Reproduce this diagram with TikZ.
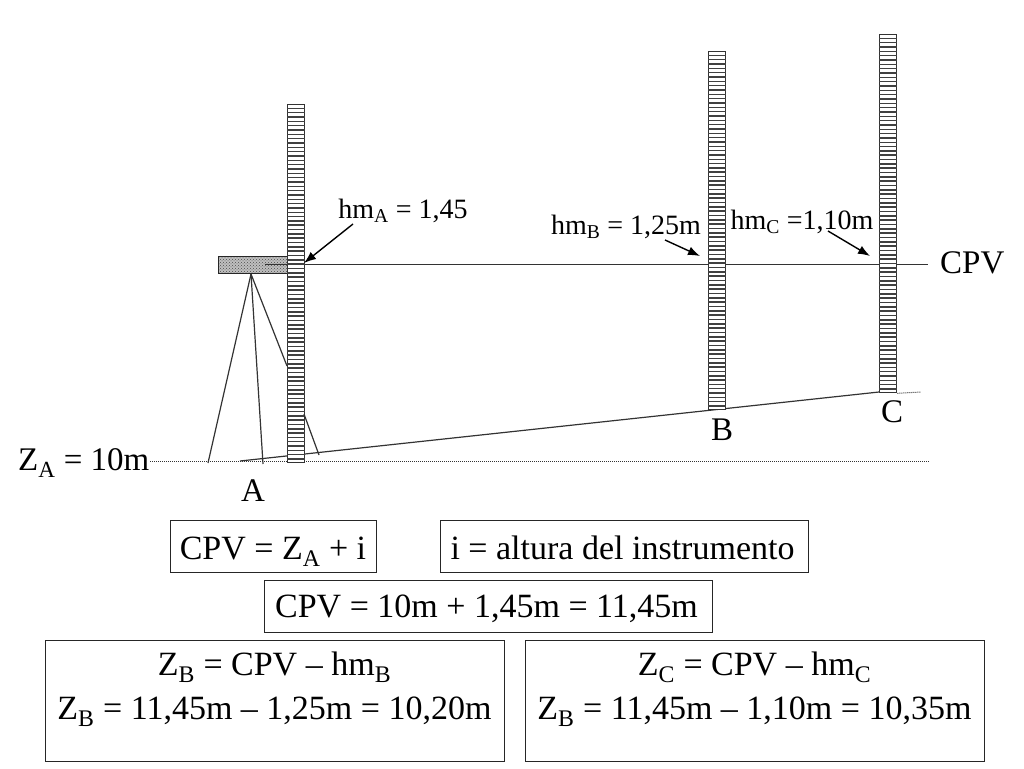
\documentclass[tikz,border=0pt]{standalone}
\usepackage{fontspec}
\setmainfont{Liberation Serif}
\usetikzlibrary{patterns,calc,positioning,arrows.meta}

\begin{document}
\begin{tikzpicture}
  [x=1pt, y=-1pt,
  rod/.style={rectangle, draw=black!80, fill=white, line width=1.3pt, anchor=north west,
    inner sep=0pt, minimum width=17pt, minimum height=358pt},
  rung/.style={black!75, line width=1.5pt},
  level/.style={rectangle, draw=black!85, line width=1.3pt, anchor=north west, inner sep=0pt,
    preaction={fill=black!25}, pattern=crosshatch dots, pattern color=black!70,
    minimum width=69pt, minimum height=17pt},
  result/.style={rectangle, draw=black!85, line width=0.9pt, inner sep=0pt, align=center,
    font=\fontsize{34}{44}\selectfont},
  big/.style={inner sep=0pt, font=\fontsize{33}{38}\selectfont},
  small/.style={inner sep=0pt, font=\fontsize{28}{30}\selectfont},
  thin line/.style={black!80, line width=1.2pt},
  ground/.style={black!80, line width=1pt, densely dotted},
  pointer/.style={-{Latex[length=12pt,width=9pt]}, line width=1.4pt, black}]

  \useasboundingbox (0,0) rectangle (1024,768);

  \node[level] (body) at (218,256) {};
  \node[big] (cpv) [anchor=west] at (940,263) {CPV};
  \node[big] (za) [anchor=west] at (18,463) {Z\textsubscript{A} = 10m};
  \coordinate (groundL) at (150,461);
  \coordinate (groundR) at (930,461);
  \coordinate (apex) at (251,274);
  \coordinate (legL) at (208,463);
  \coordinate (legM) at (263,464);
  \coordinate (legR) at (319,455);
  \coordinate (slopeA) at (240,461);
  \coordinate (slopeC) at (879,392);
  \coordinate (stubC) at (921,392);
  \coordinate (crossIn) at (265,264.5);

  \draw [ground] (groundL) -- (groundR);
  \draw [thin line] (slopeA) -- (slopeC);
  \draw [thin line] (crossIn) -- (928,264.5);
  \draw [thin line] (apex) -- (legL);
  \draw [thin line] (apex) -- (legM);
  \draw [thin line] (apex) -- (287,366);

  \node[rod] (rodA) at (287,104) {};
  \node[rod] (rodB) at (708,51) {};
  \node[rod] (rodC) at (879,34) {};

  \foreach \rodname in {rodA,rodB,rodC}
    \foreach \i in {1,...,82}
      \draw [rung] ($(\rodname.north west)+(0,4.33*\i)$) -- ($(\rodname.north east)+(0,4.33*\i)$);

  \draw [ground] (rodC.south east) -- (stubC);
  \draw [thin line] (304,414) -- (legR);

  \node[big] (labelA) [below=16pt of rodA.south, xshift=-43pt] {A};
  \node[big] (labelB) [below=8pt of rodB.south, xshift=5pt] {B};
  \node[big] (labelC) [below=7pt of rodC.south, xshift=4pt] {C};

  \node[small] (hmA) at (403,211) {hm\textsubscript{A} = 1,45};
  \node[small] (hmB) at (626,227) {hm\textsubscript{B} = 1,25m};
  \node[small] (hmC) at (802,222) {hm\textsubscript{C} =1,10m};

  \draw [pointer] (353,224) -- (304,263);
  \draw [pointer] (665,240) -- (700,256);
  \draw [pointer] (828,231) -- (870,256);

  \node[result, text height=34pt, minimum width=206pt, minimum height=52pt] (boxZ) at (273,546) {CPV = Z\textsubscript{A} + i};
  \node[result, text height=28pt, minimum width=368pt, minimum height=52pt] (boxI) at (624,546) {\hspace{-3pt}i = altura del instrumento};
  \node[result, text height=28pt, minimum width=448pt, minimum height=52pt] (boxCPV) at (488,606) {\hspace{-3pt}CPV = 10m + 1,45m = 11,45m};
  \node[result, text depth=30pt, minimum width=459pt, minimum height=121pt] (boxB) at (274.5,700.5)
    {Z\textsubscript{B} = CPV – hm\textsubscript{B}\\Z\textsubscript{B} = 11,45m – 1,25m = 10,20m};
  \node[result, text depth=30pt, minimum width=459pt, minimum height=121pt] (boxC) at (754.5,700.5)
    {Z\textsubscript{C} = CPV – hm\textsubscript{C}\\Z\textsubscript{B} = 11,45m – 1,10m = 10,35m};

\end{tikzpicture}
\end{document}
